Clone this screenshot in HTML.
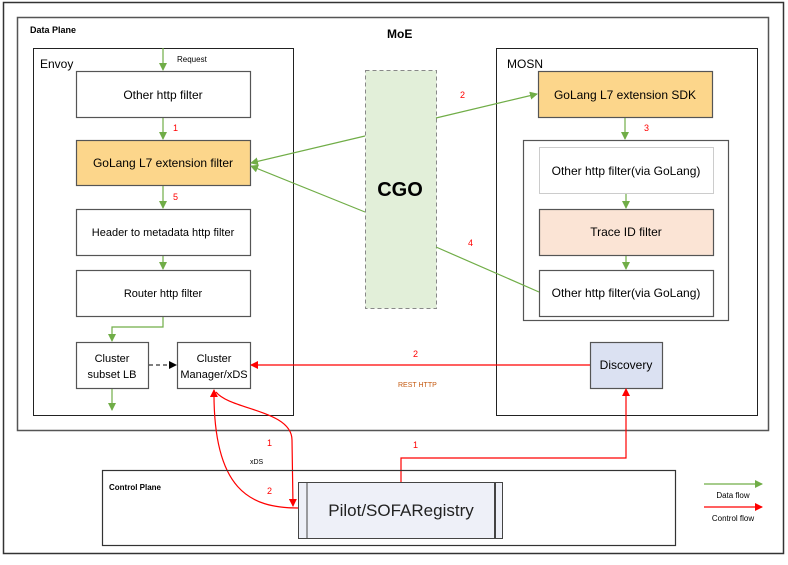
<!DOCTYPE html>
<html><head><meta charset="utf-8"><style>
body{margin:0;background:#fff}
svg text{font-family:"Liberation Sans",sans-serif}
</style></head><body>
<svg width="788" height="560" viewBox="0 0 788 560" xmlns="http://www.w3.org/2000/svg">
<defs>
<marker id="g" markerWidth="8" markerHeight="8" refX="7" refY="4" orient="auto" markerUnits="userSpaceOnUse"><path d="M0,0L8,4L0,8z" fill="#70ad47"/></marker>
<marker id="r" markerWidth="8" markerHeight="8" refX="7" refY="4" orient="auto" markerUnits="userSpaceOnUse"><path d="M0,0L8,4L0,8z" fill="#f00"/></marker>
<marker id="k" markerWidth="8" markerHeight="8" refX="7" refY="4" orient="auto" markerUnits="userSpaceOnUse"><path d="M0,0L8,4L0,8z" fill="#000"/></marker>
</defs>
<rect x="3.5" y="2.5" width="780" height="551" fill="#fff" stroke="#333" stroke-width="1.5"/>
<rect x="17.5" y="17.5" width="751" height="413" fill="#fff" stroke="#555" stroke-width="1.5"/>
<text x="30" y="33" font-size="9" font-weight="bold">Data Plane</text>
<text x="387" y="38" font-size="12" font-weight="bold">MoE</text>
<rect x="33.5" y="48.5" width="260" height="367" fill="#fff" stroke="#222"/>
<text x="40" y="68" font-size="12">Envoy</text>
<rect x="496.5" y="48.5" width="261" height="367" fill="#fff" stroke="#222"/>
<text x="507" y="68" font-size="12">MOSN</text>
<g stroke="#555" stroke-width="1.2">
<rect x="76.5" y="71.5" width="174" height="46" fill="#fff"/>
<rect x="76.5" y="140.5" width="174" height="45" fill="#fcd68b"/>
<rect x="76.5" y="209.5" width="174" height="46" fill="#fff"/>
<rect x="76.5" y="270.5" width="174" height="46" fill="#fff"/>
<rect x="76.5" y="342.5" width="72" height="46" fill="#fff"/>
<rect x="177.5" y="342.5" width="73" height="46" fill="#fff"/>
<rect x="538.5" y="71.5" width="174" height="46" fill="#fcd68b"/>
<rect x="523.5" y="140.5" width="205" height="180" fill="#fff"/>
<rect x="539.5" y="209.5" width="174" height="46" fill="#fbe4d5"/>
<rect x="539.5" y="270.5" width="174" height="46" fill="#fff"/>
<rect x="590.5" y="342.5" width="72" height="46" fill="#dbe1f2"/>
</g>
<rect x="539.5" y="147.5" width="174" height="46" fill="#fff" stroke="#ccc"/>
<rect x="365.5" y="70.5" width="71" height="238" fill="#e2efd9" stroke="#888" stroke-dasharray="4,3"/>
<text x="400" y="196" font-size="20" font-weight="bold" text-anchor="middle">CGO</text>
<g font-size="12" text-anchor="middle">
<text x="163" y="99">Other http filter</text>
<text x="163" y="167">GoLang L7 extension filter</text>
<text x="163" y="236" font-size="11">Header to metadata http filter</text>
<text x="163" y="297" font-size="11">Router http filter</text>
<text x="112" y="362" font-size="11">Cluster</text>
<text x="112" y="378" font-size="11">subset LB</text>
<text x="214" y="362" font-size="11">Cluster</text>
<text x="214" y="378" font-size="11">Manager/xDS</text>
<text x="625" y="99">GoLang L7 extension SDK</text>
<text x="626" y="175">Other http filter(via GoLang)</text>
<text x="626" y="236">Trace ID filter</text>
<text x="626" y="297">Other http filter(via GoLang)</text>
<text x="626" y="369">Discovery</text>
</g>
<g stroke="#70ad47" stroke-width="1.2" fill="none">
<line x1="163" y1="48" x2="163" y2="70" marker-end="url(#g)"/>
<line x1="163" y1="118" x2="163" y2="139" marker-end="url(#g)"/>
<line x1="163" y1="186" x2="163" y2="208" marker-end="url(#g)"/>
<line x1="163" y1="256" x2="163" y2="269" marker-end="url(#g)"/>
<polyline points="163,317 163,327 112,327 112,341" marker-end="url(#g)"/>
<line x1="112" y1="389" x2="112" y2="410" marker-end="url(#g)"/>
<line x1="365" y1="136" x2="251" y2="163" marker-end="url(#g)"/>
<line x1="365" y1="212" x2="251" y2="166" marker-end="url(#g)"/>
<line x1="436" y1="118" x2="537" y2="94" marker-end="url(#g)"/>
<line x1="436" y1="247" x2="539" y2="292"/>
<line x1="625" y1="118" x2="625" y2="139" marker-end="url(#g)"/>
<line x1="626" y1="194" x2="626" y2="208" marker-end="url(#g)"/>
<line x1="626" y1="256" x2="626" y2="269" marker-end="url(#g)"/>
<line x1="704" y1="484" x2="762" y2="484" marker-end="url(#g)"/>
</g>
<line x1="149" y1="365" x2="176" y2="365" stroke="#000" stroke-dasharray="4,3" marker-end="url(#k)"/>
<g stroke="#f00" stroke-width="1.2" fill="none">
<line x1="590" y1="365" x2="251" y2="365" marker-end="url(#r)"/>
<polyline points="401,482 401,458 626,458 626,389" marker-end="url(#r)"/>
<path d="M298,508 C250,508 213,490 214,390" marker-end="url(#r)"/>
<path d="M216,392 C230,410 292,410 292,440 L293,506" marker-end="url(#r)"/>
<line x1="704" y1="507" x2="762" y2="507" marker-end="url(#r)"/>
</g>
<g fill="#f00" font-size="9">
<text x="173" y="131">1</text><text x="173" y="200">5</text>
<text x="460" y="98">2</text><text x="644" y="131">3</text><text x="468" y="246">4</text>
<text x="413" y="357">2</text><text x="413" y="448">1</text>
<text x="267" y="446">1</text><text x="267" y="494">2</text>
</g>
<text x="398" y="387" font-size="7" fill="#c55a11">REST HTTP</text>
<text x="250" y="464" font-size="7">xDS</text>
<text x="177" y="62" font-size="8">Request</text>
<rect x="102.5" y="470.5" width="573" height="75" fill="none" stroke="#333" stroke-width="1.2"/>
<text x="109" y="490" font-size="8" font-weight="bold">Control Plane</text>
<rect x="298.5" y="482.5" width="204" height="56" fill="#eef0f8" stroke="#444"/>
<line x1="307" y1="482" x2="307" y2="538" stroke="#444"/>
<line x1="495" y1="482" x2="495" y2="538" stroke="#444" stroke-width="2"/>
<text x="401" y="516" font-size="17" text-anchor="middle" fill="#222">Pilot/SOFARegistry</text>
<text x="733" y="498" font-size="8" text-anchor="middle">Data flow</text>
<text x="733" y="521" font-size="8" text-anchor="middle">Control flow</text>
</svg>
</body></html>
